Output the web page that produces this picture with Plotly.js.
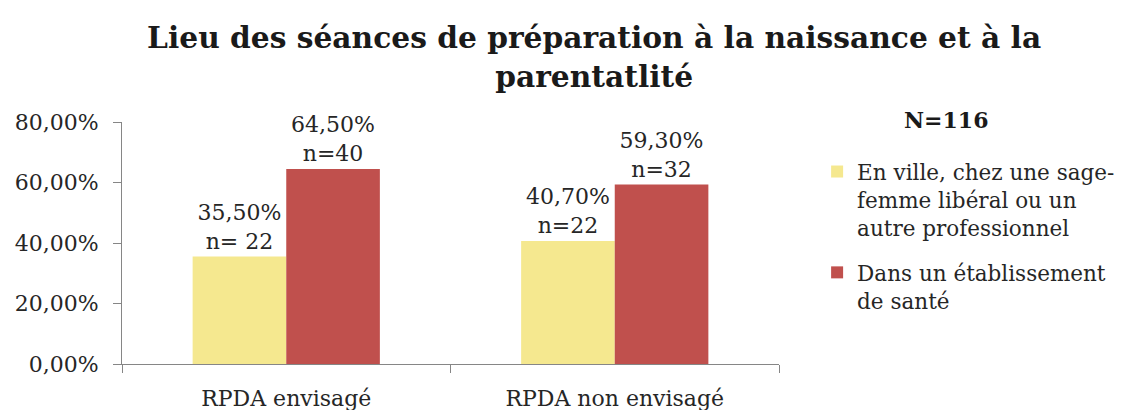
<!DOCTYPE html>
<html>
<head>
<meta charset="utf-8">
<script src="https://cdn.plot.ly/plotly-3.0.1.min.js"></script>
<style>html,body{margin:0;padding:0;background:#fff;}#chart{width:1121px;height:410px;}</style>
</head>
<body>
<div id="chart"></div>
<script>
const categories = ["RPDA envisagé", "RPDA non envisagé"];
const seriesNames = ["En ville, chez une sage-<br>femme libéral ou un<br>autre professionnel", "Dans un établissement<br>de santé"];
const villeValues = [35.5, 40.7];
const etablissementValues = [64.5, 59.3];
const villeLabels = ["35,50%<br>n= 22", "40,70%<br>n=22"];
const etablissementLabels = ["64,50%<br>n=40", "59,30%<br>n=32"];
const yTickVals = [0, 20, 40, 60, 80];
const yTickText = ["0,00%", "20,00%", "40,00%", "60,00%", "80,00%"];
const titleText = "<b>Lieu des séances de préparation à la naissance et à la<br>parentatlité</b>";
const totalText = "<b>N=116</b>";

const FONT = "DejaVu Serif, Liberation Serif, serif";
const TXT = "#262626";

const traces = [
  {type: "bar", name: seriesNames[0], legendgroup: "g1", x: categories, y: villeValues, text: villeLabels,
   textposition: "outside", cliponaxis: false, constraintext: "none",
   textfont: {family: FONT, size: 22, color: TXT},
   marker: {color: "#F5E88F"}, hoverinfo: "skip"},
  {type: "bar", name: seriesNames[1], legendgroup: "g2", x: categories, y: etablissementValues, text: etablissementLabels,
   textposition: "outside", cliponaxis: false, constraintext: "none",
   textfont: {family: FONT, size: 22, color: TXT},
   marker: {color: "#C0504D"}, hoverinfo: "skip"}
];

const layout = {
  width: 1121, height: 410,
  margin: {l: 122, r: 342, t: 122, b: 46, autoexpand: false},
  paper_bgcolor: "#ffffff", plot_bgcolor: "#ffffff",
  font: {family: FONT, size: 22, color: TXT},
  title: {text: titleText, font: {family: FONT, size: 29.7, color: "#1a1a1a"},
          x: 0.53, xref: "container", xanchor: "center", y: 0.882, yref: "container", yanchor: "top"},
  barmode: "group", bargap: 0.43, bargroupgap: 0,
  showlegend: true,
  legend: {x: 1.058, xanchor: "left", y: 0.88, yanchor: "top", valign: "top",
           font: {family: FONT, size: 21.5, color: TXT}, tracegroupgap: 14, bgcolor: "rgba(0,0,0,0)"},
  xaxis: {type: "category", showline: true, linecolor: "#868686", linewidth: 1,
          ticks: "outside", tickson: "boundaries", ticklen: 8, tickcolor: "#868686",
          ticklabelstandoff: 15, showgrid: false, zeroline: false, fixedrange: true,
          tickfont: {family: FONT, size: 22, color: TXT}},
  yaxis: {range: [0, 80], tickvals: yTickVals, ticktext: yTickText,
          showline: true, linecolor: "#868686", linewidth: 1, ticks: "outside", ticklen: 8,
          tickcolor: "#868686", ticklabelstandoff: 10, showgrid: false, zeroline: false, fixedrange: true,
          tickfont: {family: FONT, size: 22, color: TXT}},
  annotations: [{text: totalText, xref: "paper", yref: "paper", x: 1.254, y: 1.01, xanchor: "center", yanchor: "middle",
                 showarrow: false, font: {family: FONT, size: 22, color: "#1a1a1a"}}]
};

Plotly.newPlot("chart", traces, layout, {staticPlot: true, displayModeBar: false});
</script>
</body>
</html>
